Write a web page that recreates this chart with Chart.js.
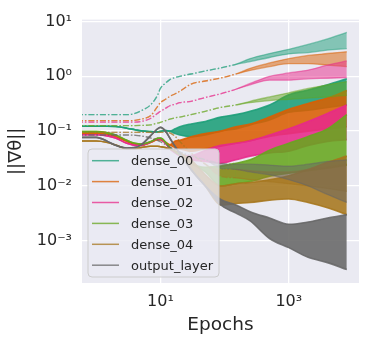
<!DOCTYPE html>
<html>
<head>
<meta charset="utf-8">
<script src="https://cdn.jsdelivr.net/npm/chart.js@4.4.0/dist/chart.umd.min.js"></script>
<style>
html, body { margin: 0; padding: 0; background: #fff; }
</style>
</head>
<body>
<canvas id="myChart" width="365" height="337"></canvas>
<script>
// epochs along the log axis (0.5 stands in for epoch 0, it sits left of the axis)
let epochs = [0.5, 1, 1.5, 2, 3, 4, 5, 7, 9, 10, 12, 14, 17, 20, 30, 50, 87, 150, 250, 500, 1000, 2000, 4000, 8000];

let layerNames = ['dense_00', 'dense_01', 'dense_02', 'dense_03', 'dense_04', 'output_layer'];

// solid curves: lower / upper edge of the noisy band (equal while the curve is smooth)
let dense00Lo = [.123,.123,.123,.121,.113,.106,.101,.098,.097,.099,.102,.100,.090,.085,.079,.085,.100,.110,.130,.160,.220,.240,.270,.300];
let dense00Hi = [.123,.123,.123,.121,.113,.106,.101,.098,.097,.099,.102,.100,.110,.120,.135,.150,.180,.200,.230,.300,.460,.560,.700,.900];
let dense01Lo = [.092,.092,.088,.080,.065,.058,.056,.062,.070,.070,.062,.056,.050,.048,.043,.048,.053,.060,.067,.080,.090,.100,.110,.120];
let dense01Hi = [.092,.092,.088,.080,.065,.058,.056,.062,.070,.070,.062,.056,.066,.068,.079,.090,.100,.120,.135,.180,.250,.320,.400,.550];
let dense02Lo = [.086,.086,.082,.075,.060,.055,.055,.063,.073,.072,.060,.048,.040,.036,.030,.028,.026,.030,.035,.040,.043,.055,.065,.070];
let dense02Hi = [.086,.086,.082,.075,.060,.055,.055,.063,.073,.072,.060,.048,.040,.036,.036,.045,.055,.060,.067,.085,.110,.150,.210,.300];
let dense03Lo = [.098,.098,.093,.085,.068,.060,.058,.064,.074,.075,.063,.050,.042,.037,.026,.018,.010,.011,.012,.015,.017,.019,.021,.024];
let dense03Hi = [.098,.098,.093,.085,.068,.060,.058,.064,.074,.075,.063,.050,.042,.037,.026,.022,.023,.026,.030,.045,.060,.080,.110,.200];
let dense04Lo = [.066,.066,.062,.056,.048,.048,.050,.053,.053,.052,.050,.047,.043,.040,.020,.010,.0045,.0048,.005,.0055,.0058,.005,.004,.003];
let dense04Hi = [.066,.066,.062,.056,.048,.048,.050,.053,.053,.052,.050,.047,.043,.040,.030,.016,.010,.011,.0116,.013,.0154,.020,.027,.035];
let outputLo  = [.077,.077,.065,.055,.049,.050,.056,.082,.110,.117,.100,.075,.052,.039,.020,.010,.0045,.0032,.0023,.0011,.00075,.0005,.0004,.0003];
let outputHi  = [.077,.077,.065,.055,.049,.050,.056,.082,.110,.117,.100,.075,.052,.039,.020,.010,.0057,.0045,.0034,.0026,.0020,.0022,.0026,.0030];

// dash-dot curves (lighter)
let dense00dLo = [.20,.20,.20,.20,.20,.21,.235,.30,.45,.60,.75,.87,.95,1.0,1.1,1.25,1.42,1.65,1.85,2.2,2.55,2.7,3.0,3.2];
let dense00dHi = [.20,.20,.20,.20,.20,.21,.235,.30,.45,.60,.75,.87,.95,1.0,1.1,1.25,1.42,1.65,2.1,2.6,3.1,3.8,4.8,6.3];
let dense01dLo = [.155,.155,.155,.155,.155,.157,.165,.19,.28,.33,.38,.43,.48,.53,.72,.82,.93,1.1,1.28,1.5,1.7,1.7,1.6,1.5];
let dense01dHi = [.155,.155,.155,.155,.155,.157,.165,.19,.28,.33,.38,.43,.48,.53,.72,.82,.93,1.1,1.4,1.75,2.1,2.4,2.6,2.8];
let dense02dLo = [.146,.146,.146,.146,.146,.146,.15,.17,.21,.23,.26,.29,.31,.33,.35,.41,.48,.58,.70,.85,.85,.90,.92,.95];
let dense02dHi = [.146,.146,.146,.146,.146,.146,.15,.17,.21,.23,.26,.29,.31,.33,.35,.41,.48,.58,.74,1.0,1.15,1.3,1.6,1.9];
let dense03dLo = [.126,.126,.126,.126,.126,.126,.127,.13,.14,.145,.155,.165,.175,.18,.20,.23,.27,.30,.33,.36,.38,.40,.42,.45];
let dense03dHi = [.126,.126,.126,.126,.126,.126,.127,.13,.14,.145,.155,.165,.175,.18,.20,.23,.27,.30,.35,.42,.50,.60,.70,.80];
let dense04dLo = [.095,.095,.095,.095,.095,.095,.095,.095,.095,.095,.095,.093,.080,.065,.040,.025,.015,.014,.013,.012,.011,.010,.009,.008];
let dense04dHi = [.095,.095,.095,.095,.095,.095,.095,.095,.095,.095,.095,.093,.080,.065,.040,.025,.020,.020,.019,.018,.018,.020,.022,.025];
let outputdLo  = [.085,.085,.085,.085,.085,.084,.082,.075,.068,.064,.057,.051,.046,.042,.035,.030,.021,.020,.018,.016,.013,.010,.007,.005];
let outputdHi  = [.085,.085,.085,.085,.085,.084,.082,.075,.068,.064,.057,.051,.046,.042,.035,.030,.026,.025,.025,.024,.023,.025,.028,.030];

let yTickValues = [1e-3, 1e-2, 1e-1, 1, 10];
let yTickLabels = ['10⁻³', '10⁻²', '10⁻¹', '10⁰', '10¹'];
let xTickValues = [10, 1000];
let xTickLabels = ['10¹', '10³'];

let colors = [[27,158,119], [217,95,2], [231,41,138], [102,166,30], [166,118,29], [102,102,102]];
let solidLo = [dense00Lo, dense01Lo, dense02Lo, dense03Lo, dense04Lo, outputLo];
let solidHi = [dense00Hi, dense01Hi, dense02Hi, dense03Hi, dense04Hi, outputHi];
let dashLo = [dense00dLo, dense01dLo, dense02dLo, dense03dLo, dense04dLo, outputdLo];
let dashHi = [dense00dHi, dense01dHi, dense02dHi, dense03dHi, dense04dHi, outputdHi];

function rgba(c, a) { return 'rgba(' + c[0] + ',' + c[1] + ',' + c[2] + ',' + a + ')'; }
function pts(arr) { return epochs.map((e, i) => ({x: e, y: arr[i]})); }

let datasets = [];
let z = 0;
function addBand(label, lo, hi, c, alpha, dashed) {
    let base = {
        borderColor: rgba(c, alpha),
        backgroundColor: rgba(c, alpha),
        borderWidth: dashed ? 1.3 : 1.6,
        pointRadius: 0,
        cubicInterpolationMode: 'monotone',
        borderDash: [],
        segment: dashed ? { borderDash: ctx => ctx.p0.parsed.x < 150 ? [6, 2, 1.5, 2] : undefined } : {}
    };
    datasets.push(Object.assign({}, base, { label: label, data: pts(lo), fill: false, order: 1000 - z++ }));
    datasets.push(Object.assign({}, base, { label: label + '_hi', data: pts(hi), fill: '-1', order: 1000 - z++ }));
}
for (let i = 0; i < layerNames.length; i++) {
    addBand(layerNames[i], solidLo[i], solidHi[i], colors[i], 0.88, false);
    addBand(layerNames[i] + '_dash', dashLo[i], dashHi[i], colors[i], 0.5, true);
}

const plotBg = {
    id: 'plotBg',
    beforeDraw(chart) {
        const a = chart.chartArea, ctx = chart.ctx;
        ctx.save();
        ctx.fillStyle = '#eaeaf2';
        ctx.fillRect(a.left, a.top, a.right - a.left, a.bottom - a.top);
        ctx.restore();
    }
};

const legendBox = {
    id: 'legendBox',
    afterDatasetsDraw(chart) {
        const a = chart.chartArea, ctx = chart.ctx;
        const w = 131, h = 128, x0 = a.left + 6, y0 = a.bottom - 6 - h;
        ctx.save();
        ctx.beginPath();
        ctx.roundRect(x0, y0, w, h, 4);
        ctx.fillStyle = 'rgba(234,234,242,0.8)';
        ctx.fill();
        ctx.strokeStyle = '#cccccc';
        ctx.lineWidth = 1;
        ctx.stroke();
        ctx.font = '13px "DejaVu Sans"';
        ctx.textBaseline = 'middle';
        ctx.fillStyle = '#262626';
        for (let i = 0; i < layerNames.length; i++) {
            const y = y0 + 11.7 + i * 20.9;
            ctx.strokeStyle = rgba(colors[i], 0.75);
            ctx.lineWidth = 1.5;
            ctx.beginPath();
            ctx.moveTo(x0 + 4, y);
            ctx.lineTo(x0 + 31, y);
            ctx.stroke();
            ctx.fillText(layerNames[i], x0 + 43, y + 1);
        }
        ctx.restore();
    }
};

Chart.defaults.font.family = '"DejaVu Sans"';
Chart.defaults.color = '#262626';

let ctx = document.getElementById('myChart').getContext('2d');
let myChart = new Chart(ctx, {
    type: 'line',
    data: { datasets: datasets },
    options: {
        responsive: false,
        animation: false,
        layout: { padding: { top: 13, right: 6, left: 0, bottom: 0 } },
        plugins: { legend: { display: false }, tooltip: { enabled: false } },
        scales: {
            x: {
                type: 'logarithmic',
                min: 0.645,
                max: 12400,
                afterBuildTicks: s => { s.ticks = xTickValues.map(v => ({ value: v })); },
                afterFit: s => { s.height = 54; },
                ticks: { callback: (v, i) => xTickLabels[i], font: { size: 16 }, padding: 9, maxRotation: 0 },
                grid: { color: '#ffffff', lineWidth: 1.3, drawTicks: false },
                border: { display: false },
                title: { display: true, text: 'Epochs', font: { size: 18.5 }, padding: { top: 0, bottom: 1 } }
            },
            y: {
                type: 'logarithmic',
                min: 1.7e-4,
                max: 10.8,
                afterBuildTicks: s => { s.ticks = yTickValues.map(v => ({ value: v })); },
                afterFit: s => { s.width = 82; },
                ticks: { callback: (v, i) => yTickLabels[i], font: { size: 16 }, padding: 10 },
                grid: { color: '#ffffff', lineWidth: 1.3, drawTicks: false },
                border: { display: false },
                title: { display: true, text: '||∇θ||', font: { size: 18 }, padding: { top: 6, bottom: 0 } }
            }
        }
    },
    plugins: [plotBg, legendBox]
});
</script>
</body>
</html>
